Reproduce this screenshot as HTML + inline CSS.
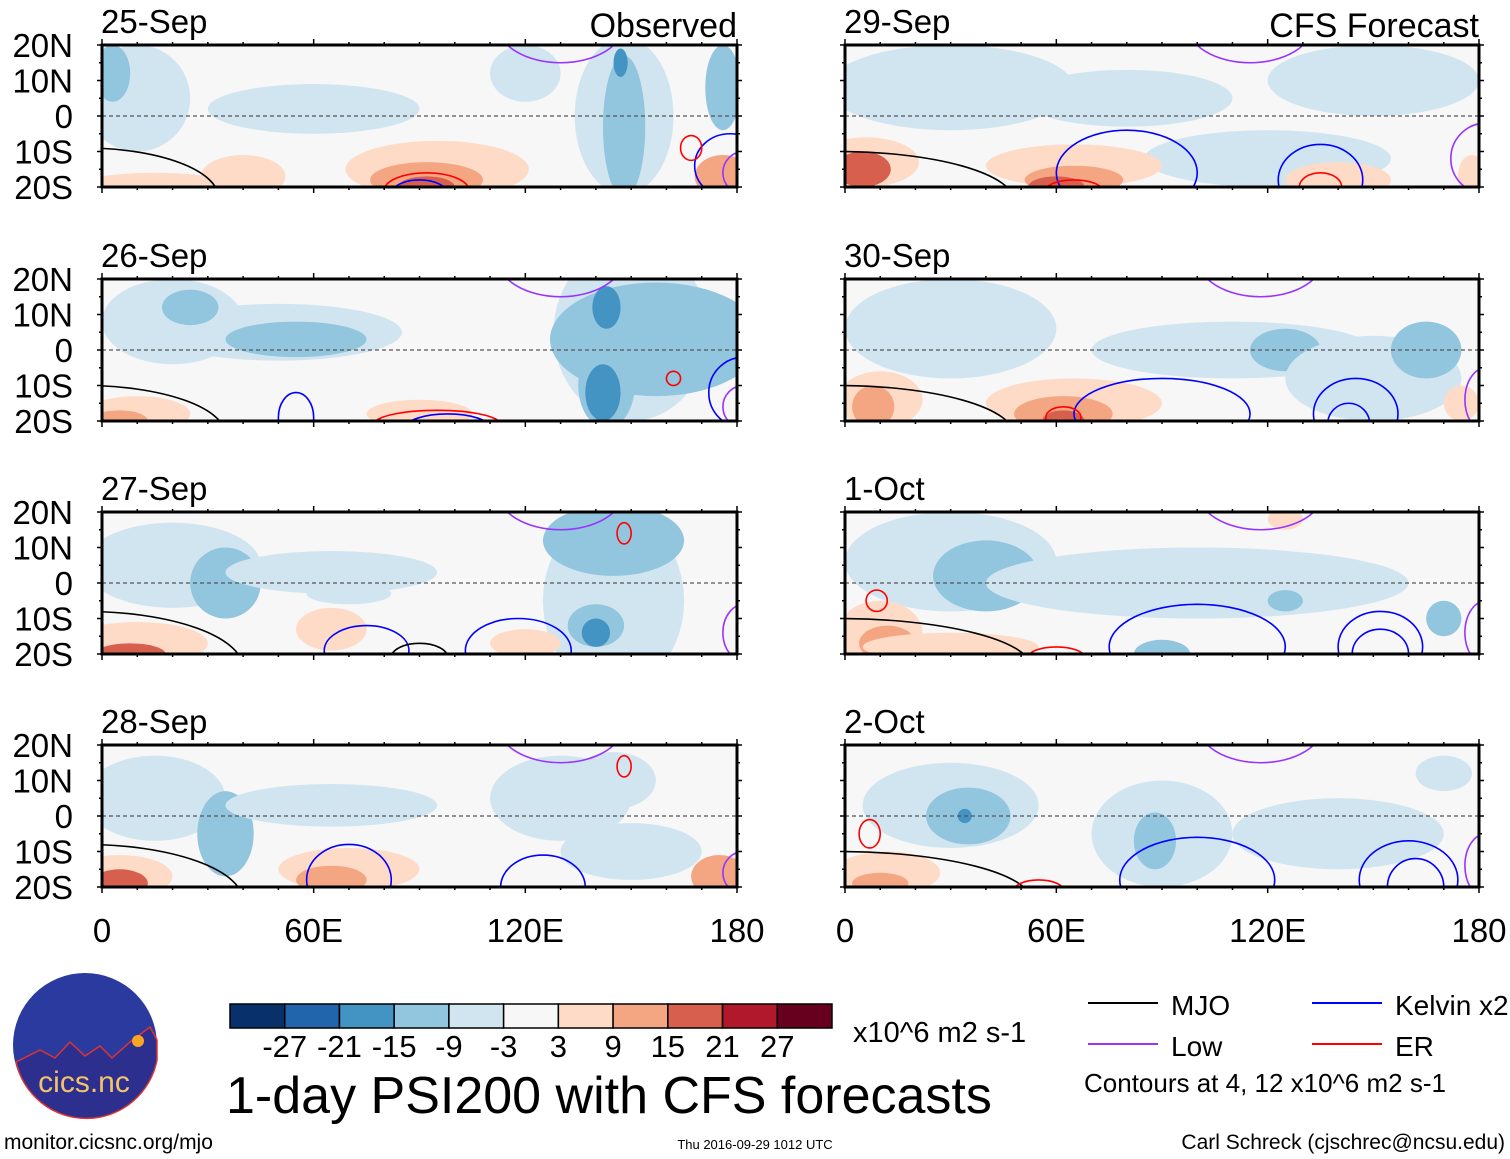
<!DOCTYPE html>
<html><head><meta charset="utf-8"><style>
body{margin:0;background:#fff;}
svg{display:block;font-family:"Liberation Sans",sans-serif;}
</style></head><body>
<svg id="c" width="1510" height="1159" viewBox="0 0 1510 1159"></svg>
<script>
const dates=["25-Sep","26-Sep","27-Sep","28-Sep","29-Sep","30-Sep","1-Oct","2-Oct"];
const levelColors={"-4":"#2166ac","-3":"#4393c3","-2":"#92c5de","-1":"#d1e5f0","1":"#fddbc7","2":"#f4a582","3":"#d6604d","4":"#b2182b"};
const lineColors={mjo:"#000",kelvin:"#0000ff",low:"#9933ff",er:"#ff0000"};
// blobs: [lon, lat, rlon, rlat, level]
const blobs=[
[[10,5,15,15,-1],[3,12,5,8,-2],[60,2,30,7,-1],[120,12,10,8,-1],[148,0,14,22,-1],[148,-3,6,20,-2],[147,15,2,4,-3],[176,8,5,12,-2],[95,-15,26,8,1],[92,-18,16,5,2],[92,-20,8,3,3],[40,-17,12,6,1],[15,-19,20,3,1],[176,-17,8,6,2]],
[[20,8,20,12,-1],[50,5,35,8,-1],[55,3,20,5,-2],[25,12,8,5,-2],[150,5,22,25,-1],[157,3,30,16,-2],[143,12,4,6,-3],[143,-10,8,12,-2],[142,-12,5,8,-3],[10,-18,15,5,1],[5,-20,8,3,2],[90,-18,15,4,1]],
[[20,5,25,12,-1],[35,0,10,10,-2],[65,3,30,6,-1],[70,-3,12,3,-1],[145,-5,20,25,-1],[145,12,20,10,-2],[140,-12,8,6,-2],[140,-14,4,4,-3],[10,-17,20,6,1],[8,-20,10,3,3],[65,-13,10,6,1],[120,-17,10,4,1]],
[[15,5,20,12,-1],[35,-5,8,12,-2],[65,3,30,6,-1],[130,5,20,12,-1],[145,10,12,8,-1],[150,-10,20,8,-1],[5,-17,15,6,1],[5,-19,8,4,3],[70,-15,20,6,1],[65,-18,10,4,2],[175,-17,8,6,2]],
[[30,8,35,12,-1],[80,5,30,8,-1],[150,10,30,10,-1],[120,-12,35,8,-1],[6,-13,15,7,1],[5,-15,8,5,3],[65,-14,25,6,1],[65,-18,14,4,2],[60,-20,8,3,3],[140,-18,15,5,1],[178,-17,4,6,1]],
[[30,6,30,14,-1],[110,0,40,8,-1],[125,0,10,6,-2],[150,-8,25,12,-1],[165,0,10,8,-2],[10,-14,12,8,1],[8,-16,6,6,2],[65,-15,25,7,1],[62,-18,14,5,2],[62,-20,6,3,3],[175,-15,5,5,1]],
[[30,6,30,14,-1],[40,2,15,10,-2],[100,0,60,10,-1],[125,-5,5,3,-2],[170,-10,5,5,-2],[90,-20,8,4,-2],[10,-14,12,9,1],[12,-17,8,5,2],[12,-19,4,3,3],[30,-18,25,4,1],[125,18,5,3,1]],
[[30,3,25,12,-1],[35,0,12,8,-2],[34,0,2,2,-3],[90,-5,20,15,-1],[88,-7,6,8,-2],[140,-5,30,10,-1],[170,12,8,5,-1],[12,-16,15,6,1],[10,-19,8,3,2]]
];
// contours: [lon, lat, rlon, rlat, type]
const contours=[
[[-5,-23,38,14,"mjo"],[92,-21,12,5,"er"],[90,-22,8,4,"kelvin"],[178,-14,10,9,"kelvin"],[167,-9,3,3.5,"er"],[130,26,18,11,"low"],[182,-16,6,6,"low"]],
[[-5,-24,40,14,"mjo"],[95,-21,18,4,"er"],[98,-22,12,4,"kelvin"],[55,-19,5,7,"kelvin"],[162,-8,2,2,"er"],[182,-12,10,10,"kelvin"],[130,26,18,11,"low"],[182,-16,6,6,"low"]],
[[-5,-24,45,16,"mjo"],[75,-19,12,7,"kelvin"],[118,-19,15,9,"kelvin"],[90,-21,8,4,"mjo"],[148,14,2,3,"er"],[130,26,18,11,"low"],[182,-14,6,8,"low"]],
[[-5,-24,45,16,"mjo"],[70,-18,12,10,"kelvin"],[125,-20,12,9,"kelvin"],[148,14,2,3,"er"],[130,26,18,11,"low"],[182,-16,6,6,"low"]],
[[-2,-24,50,14,"mjo"],[80,-16,20,12,"kelvin"],[135,-18,12,10,"kelvin"],[65,-21,8,3,"er"],[135,-20,6,4,"er"],[115,26,18,11,"low"],[182,-12,10,10,"low"]],
[[-2,-24,50,14,"mjo"],[90,-18,25,10,"kelvin"],[145,-18,12,10,"kelvin"],[143,-21,6,6,"kelvin"],[62,-19,5,3,"er"],[118,26,18,11,"low"],[182,-14,6,9,"low"]],
[[-2,-24,55,14,"mjo"],[100,-18,25,12,"kelvin"],[152,-18,12,10,"kelvin"],[152,-20,8,7,"kelvin"],[9,-5,3,3,"er"],[60,-21,8,3,"er"],[118,26,18,11,"low"],[182,-14,6,9,"low"]],
[[-2,-24,55,14,"mjo"],[100,-18,22,12,"kelvin"],[160,-18,14,11,"kelvin"],[162,-20,8,8,"kelvin"],[7,-5,3,4,"er"],[55,-21,7,3,"er"],[118,26,18,11,"low"],[182,-14,6,9,"low"]]
];
const latTicks=["20N","10N","0","10S","20S"];
const lonTicks=["0","60E","120E","180"];
const cbLabels=["-27","-21","-15","-9","-3","3","9","15","21","27"];
const cbColors=["#08306b","#2166ac","#4393c3","#92c5de","#d1e5f0","#f7f7f7","#fddbc7","#f4a582","#d6604d","#b2182b","#67001f"];

const NS="http://www.w3.org/2000/svg";
const svg=document.getElementById("c");
function mk(tag,attrs,parent){const e=document.createElementNS(NS,tag);for(const k in attrs)e.setAttribute(k,attrs[k]);(parent||svg).appendChild(e);return e;}
const cols=[[102,635],[845,634]];const rows=[45,279,512,745];const H=142;
const defs=mk("defs",{});
for(let p=0;p<8;p++){
  const col=cols[Math.floor(p/4)],x0=col[0],W=col[1],y0=rows[p%4];
  const xs=lon=>x0+lon/180*W, ys=lat=>y0+(20-lat)/40*H;
  const cp=mk("clipPath",{id:"cp"+p},defs);mk("rect",{x:x0,y:y0,width:W,height:H},cp);
  const g=mk("g",{"clip-path":"url(#cp"+p+")"});
  
  
  mk("rect",{x:x0,y:y0,width:W,height:H,fill:"#f7f7f7"},g);
  blobs[p].forEach(b=>{const e=mk("ellipse",{cx:xs(b[0]),cy:ys(b[1]),rx:b[2]/180*W,ry:b[3]/40*H,fill:levelColors[b[4]]},g);
    
    });
  mk("line",{x1:x0,x2:x0+W,y1:ys(0),y2:ys(0),stroke:"#555","stroke-dasharray":"4,3","stroke-width":1.2},g);
  contours[p].forEach(c=>{const e=mk("ellipse",{cx:xs(c[0]),cy:ys(c[1]),rx:c[2]/180*W,ry:c[3]/40*H,fill:"none",stroke:lineColors[c[4]],"stroke-width":1.6},g);
    
    });
  const fr=mk("rect",{x:x0,y:y0,width:W,height:H,fill:"none",stroke:"#000","stroke-width":3});
  
  
  for(let l=0;l<=180;l+=10){const big=l%60==0?6:3;
    mk("line",{x1:xs(l),x2:xs(l),y1:y0-big,y2:y0,stroke:"#000","stroke-width":1.5});
    mk("line",{x1:xs(l),x2:xs(l),y1:y0+H,y2:y0+H+big,stroke:"#000","stroke-width":1.5});}
  for(let la=-20;la<=20;la+=5){const big=la%10==0?5:3;
    mk("line",{x1:x0-big,x2:x0,y1:ys(la),y2:ys(la),stroke:"#000","stroke-width":1.5});
    mk("line",{x1:x0+W,x2:x0+W+big,y1:ys(la),y2:ys(la),stroke:"#000","stroke-width":1.5});}
  const t=mk("text",{x:x0-1,y:y0-12,"font-size":33});t.textContent=dates[p];
  
  
  if(p<4){latTicks.forEach((s,i)=>{const tt=mk("text",{x:73,y:y0+i*H/4+12,"font-size":33,"text-anchor":"end"});tt.textContent=s;
    
    });}
  if(p%4==3){lonTicks.forEach((s,i)=>{const tt=mk("text",{x:xs(i*60),y:942,"font-size":33,"text-anchor":"middle"});tt.textContent=s;
    
    });}
}
function txt(x,y,s,fs,name,anchor){const t=mk("text",{x:x,y:y,"font-size":fs,"text-anchor":anchor||"start"});t.textContent=s;
  
  return t;}
txt(737,37,"Observed",34,"observed-title","end");
txt(1479,37,"CFS Forecast",34,"forecast-title","end");
// colorbar
const cbx=230,cbw=602/11;
cbColors.forEach((c,i)=>{const r=mk("rect",{x:cbx+i*cbw,y:1004,width:cbw,height:24,fill:c,stroke:"#000","stroke-width":1.5});
  
  });
cbLabels.forEach((s,i)=>txt(cbx+(i+1)*cbw,1057,s,31,"colorbar-label","middle"));
txt(853,1042,"x10^6 m2 s-1",29,"colorbar-units");
txt(226,1113,"1-day PSI200 with CFS forecasts",52,"main-title");
// legend
[["MJO",1088,1003,"mjo"],["Low",1088,1044,"low"],["Kelvin x2",1312,1003,"kelvin"],["ER",1312,1044,"er"]].forEach(l=>{
  const ln=mk("line",{x1:l[1],x2:l[1]+70,y1:l[2],y2:l[2],stroke:lineColors[l[3]],"stroke-width":2});
  
  
  txt(l[1]+83,l[2]+12,l[0],28,"legend-entry");});
txt(1084,1092,"Contours at 4, 12 x10^6 m2 s-1",26,"contour-note");
txt(4,1149,"monitor.cicsnc.org/mjo",21,"source-url");
txt(755,1149,"Thu 2016-09-29 1012 UTC",13,"timestamp","middle");
txt(1505,1149,"Carl Schreck (cjschrec@ncsu.edu)",21,"author","end");
// logo
const lg=mk("g",{});


mk("circle",{cx:85,cy:1045,r:72,fill:"#2a3a9e"},lg);
mk("path",{d:"M16,1062 L40,1050 L55,1058 L70,1042 L85,1056 L100,1046 L112,1058 L130,1042 L150,1027 L157,1040 L157,1060 A72,72 0 0 1 16,1062Z",fill:"#2d2f8f",stroke:"#d33","stroke-width":1.5},lg);
mk("circle",{cx:138,cy:1041,r:6,fill:"#f6a623"},lg);
const lt=mk("text",{x:84,y:1092,"font-size":30,"text-anchor":"middle",fill:"#f2c36b"},lg);lt.textContent="cics.nc";
</script>
</body></html>
